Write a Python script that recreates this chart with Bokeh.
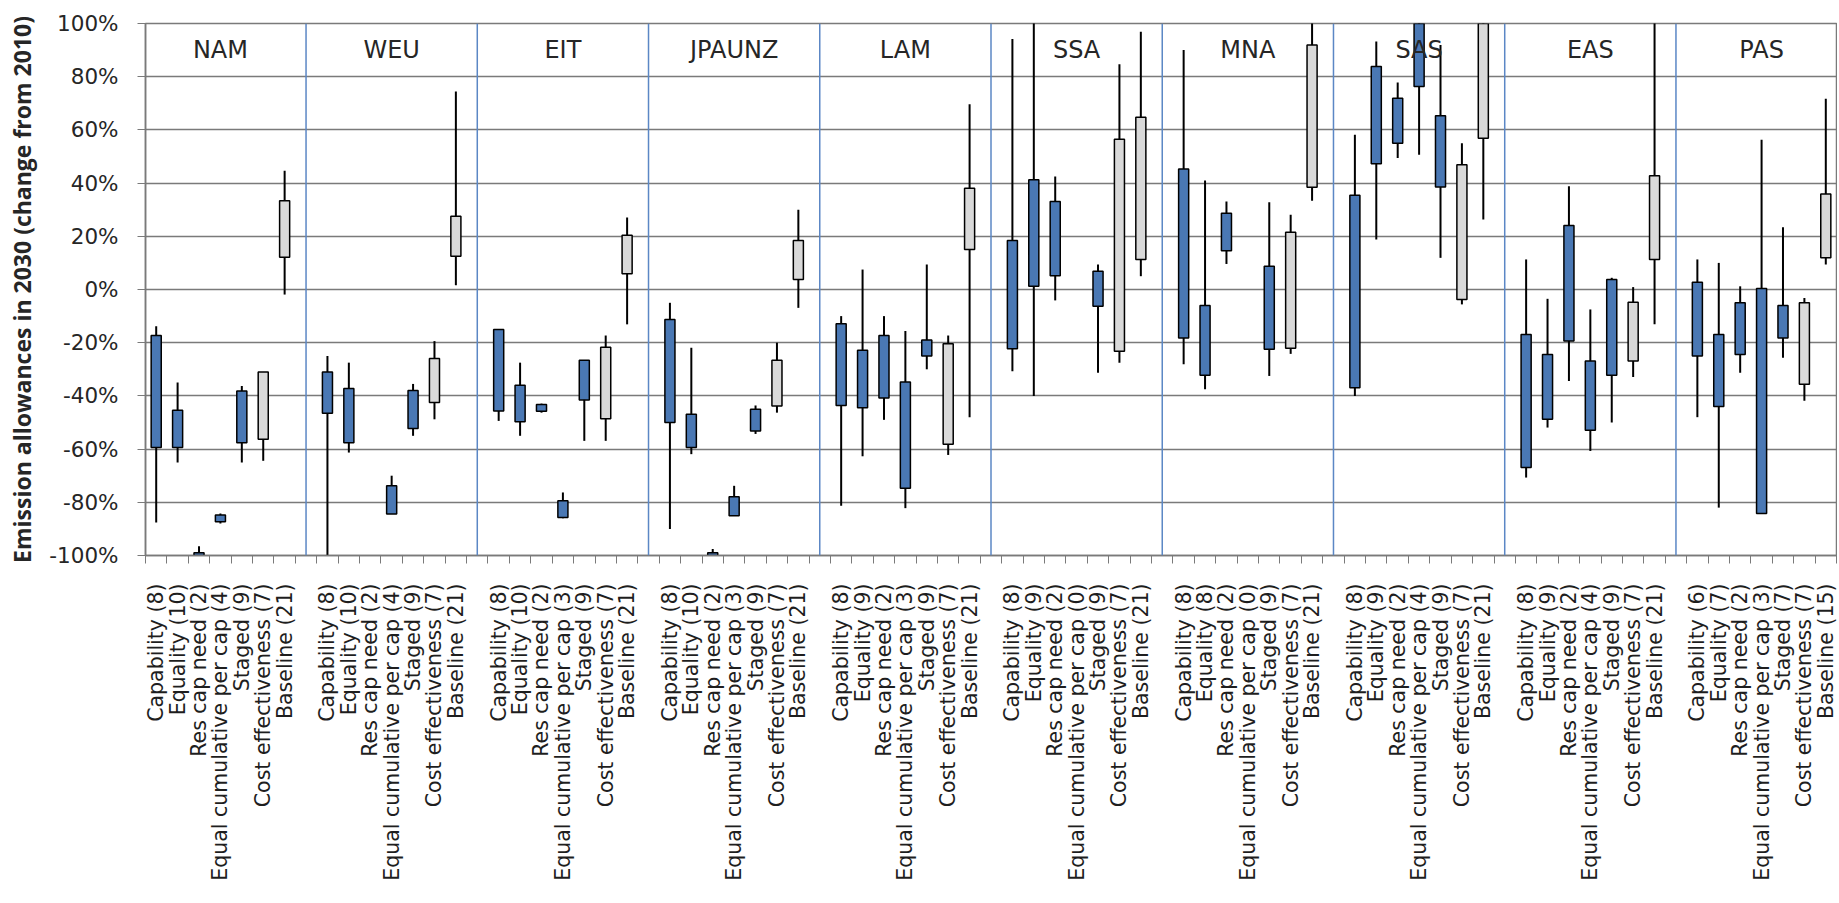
import math
from bokeh.plotting import figure
from bokeh.models import FixedTicker, Range1d, Span, PrintfTickFormatter, ColumnDataSource
from bokeh.core.properties import value
from bokeh.embed import file_html
from bokeh.resources import INLINE

# ---------------- data ----------------
REGIONS = ["NAM", "WEU", "EIT", "JPAUNZ", "LAM", "SSA", "MNA", "SAS", "EAS", "PAS"]
SCHEMES = ["Capability", "Equality", "Res cap need", "Equal cumulative per cap",
           "Staged", "Cost effectiveness", "Baseline"]
GRAY_SCHEMES = ["Cost effectiveness", "Baseline"]
COUNTS = [
    [8, 10, 2, 4, 9, 7, 21],
    [8, 10, 2, 4, 9, 7, 21],
    [8, 10, 2, 3, 9, 7, 21],
    [8, 10, 2, 3, 9, 7, 21],
    [8, 9, 2, 3, 9, 7, 21],
    [8, 9, 2, 0, 9, 7, 21],
    [8, 8, 2, 0, 9, 7, 21],
    [8, 9, 2, 4, 9, 7, 21],
    [8, 9, 2, 4, 9, 7, 21],
    [6, 7, 2, 3, 7, 7, 15],
]
# box upper / lower edge (% change from 2010), None = no data
BOX_TOP = [
    [-17.3, -45.4, -99.0, -84.8, -38.2, -31.0, 33.4],
    [-31.0, -37.2, None, -73.8, -38.0, -25.9, 27.5],
    [-15.0, -36.0, -43.2, -79.4, -26.6, -21.7, 20.4],
    [-11.3, -46.9, -99.0, -77.9, -45.0, -26.6, 18.4],
    [-12.9, -22.8, -17.3, -34.8, -19.0, -20.4, 38.1],
    [18.4, 41.3, 33.1, None, 6.9, 56.5, 64.8],
    [45.3, -6.0, 28.7, None, 8.7, 21.5, 91.9],
    [35.4, 83.8, 71.9, 115.0, 65.3, 46.9, 125.0],
    [-16.9, -24.4, 24.1, -26.9, 3.8, -4.8, 42.8],
    [2.7, -16.9, -5.0, 0.4, -6.0, -5.0, 35.9],
]
BOX_BOTTOM = [
    [-59.4, -59.4, -100.5, -87.3, -57.6, -56.3, 12.1],
    [-46.5, -57.6, None, -84.4, -52.3, -42.5, 12.5],
    [-45.7, -49.7, -45.8, -85.7, -41.5, -48.6, 5.9],
    [-50.0, -59.4, -100.5, -85.1, -53.2, -43.8, 3.8],
    [-43.6, -44.5, -40.8, -74.7, -25.0, -58.2, 15.0],
    [-22.3, 1.2, 5.2, None, -6.3, -23.2, 11.3],
    [-18.2, -32.2, 14.6, None, -22.5, -22.1, 38.4],
    [-36.9, 47.3, 55.0, 76.3, 38.5, -3.8, 56.9],
    [-66.9, -48.8, -19.4, -52.9, -32.2, -26.9, 11.3],
    [-25.0, -44.0, -24.4, -84.2, -18.2, -35.6, 11.9],
]
# whisker max / min
WHISKER_TOP = [
    [-13.8, -35.0, -96.5, -84.2, -36.3, -31.0, 44.6],
    [-25.0, -27.5, None, -70.0, -35.5, -19.4, 74.4],
    [-15.0, -27.5, -42.9, -76.3, -26.6, -17.3, 27.1],
    [-5.0, -21.9, -97.6, -73.8, -43.6, -20.0, 30.0],
    [-10.0, 7.5, -10.0, -15.6, 9.4, -17.3, 69.6],
    [94.2, 130.0, 42.5, None, 9.4, 84.7, 96.9],
    [90.0, 41.0, 33.1, None, 32.8, 28.1, 115.0],
    [58.2, 93.2, 77.8, 130.0, 91.9, 55.0, 140.0],
    [11.3, -3.5, 38.8, -7.5, 4.4, 0.9, 130.0],
    [11.3, 10.0, 1.2, 56.3, 23.4, -3.2, 71.7],
]
WHISKER_BOTTOM = [
    [-87.6, -65.0, -100.0, -88.0, -65.0, -64.4, -1.9],
    [-100.0, -61.3, None, -84.4, -55.0, -48.8, 1.6],
    [-49.4, -55.0, -46.3, -86.0, -56.9, -56.9, -13.1],
    [-90.0, -61.9, -100.0, -85.1, -54.3, -46.3, -6.9],
    [-81.3, -62.7, -49.0, -82.2, -30.0, -62.2, -48.0],
    [-30.7, -40.0, -4.1, None, -31.3, -27.5, 5.0],
    [-28.1, -37.5, 9.6, None, -32.5, -24.2, 33.4],
    [-40.0, 18.8, 49.4, 50.7, 11.9, -5.6, 26.3],
    [-70.7, -51.9, -34.4, -60.7, -50.0, -32.9, -13.1],
    [-48.0, -82.0, -31.3, -84.2, -25.7, -41.8, 9.4],
]

Y_TICKS = [-100, -80, -60, -40, -20, 0, 20, 40, 60, 80, 100]
Y_TITLE = "Emission allowances in 2030 (change from 2010)"

# ---------------- layout helpers ----------------
SLOTS_PER_REGION = len(SCHEMES) + 1          # one empty slot between regions
n_slots = SLOTS_PER_REGION * len(REGIONS) - 1

BLUE = "#4a78b4"
GRAY = "#d9d9d9"

xs, tops, bottoms, wtops, wbots, fills = [], [], [], [], [], []
tick_pos, overrides = [], {}
for g, region in enumerate(REGIONS):
    for i, scheme in enumerate(SCHEMES):
        x = g * SLOTS_PER_REGION + i + 0.5
        tick_pos.append(x)
        overrides[x] = f"{scheme} ({COUNTS[g][i]})"
        if BOX_TOP[g][i] is None:
            continue
        xs.append(x)
        tops.append(BOX_TOP[g][i])
        bottoms.append(BOX_BOTTOM[g][i])
        wtops.append(WHISKER_TOP[g][i])
        wbots.append(WHISKER_BOTTOM[g][i])
        fills.append(GRAY if scheme in GRAY_SCHEMES else BLUE)

src = ColumnDataSource(dict(x=xs, top=tops, bottom=bottoms, wt=wtops, wb=wbots, fill=fills))

p = figure(width=1837, height=900,
           x_range=Range1d(0, n_slots), y_range=Range1d(-100, 100),
           output_backend="svg", toolbar_location=None,
           min_border_left=145, min_border_right=1,
           min_border_top=23, min_border_bottom=345)
p.background_fill_color = "white"
p.border_fill_color = "white"
p.outline_line_color = "#7a7a7a"
p.outline_line_width = 1.5

# grid
p.xgrid.visible = False
p.ygrid.ticker = FixedTicker(ticks=Y_TICKS)
p.ygrid.grid_line_color = "#7a7a7a"
p.ygrid.grid_line_width = 1.5

# region separators
for g in range(1, len(REGIONS)):
    p.add_layout(Span(location=g * SLOTS_PER_REGION - 0.5, dimension="height",
                      line_color="#5b87c5", line_width=1.5))

# whiskers then boxes
p.segment(x0="x", y0="wb", x1="x", y1="wt", source=src, line_color="black", line_width=2)
p.vbar(x="x", top="top", bottom="bottom", width=0.47, source=src,
       fill_color="fill", line_color="black", line_width=1.5)

# region names
p.text(x=[g * SLOTS_PER_REGION + len(SCHEMES) / 2 for g in range(len(REGIONS))],
       y=[90.0] * len(REGIONS), text=REGIONS,
       text_align="center", text_baseline="middle",
       text_font=value("DejaVu Sans"), text_font_size="24px", text_color="#262626")

# x axis
xa = p.xaxis[0]
xa.ticker = FixedTicker(ticks=tick_pos, minor_ticks=list(range(0, n_slots + 1)))
xa.major_label_overrides = overrides
xa.major_label_orientation = math.pi / 2
xa.major_tick_line_color = None
xa.major_tick_out = 0
xa.major_tick_in = 0
xa.minor_tick_line_color = "#7a7a7a"
xa.minor_tick_out = 8
xa.minor_tick_in = 0
xa.axis_line_color = "#7a7a7a"
xa.axis_line_width = 1.5
xa.major_label_standoff = 20
xa.major_label_text_font = "DejaVu Sans"
xa.major_label_text_font_size = "20.5px"
xa.major_label_text_color = "#1e1e1e"

# y axis
ya = p.yaxis[0]
ya.ticker = FixedTicker(ticks=Y_TICKS)
ya.formatter = PrintfTickFormatter(format="%d%%")
ya.minor_tick_line_color = None
ya.major_tick_out = 8
ya.major_tick_in = 0
ya.major_tick_line_color = "#7a7a7a"
ya.axis_line_color = "#7a7a7a"
ya.axis_line_width = 1.5
ya.major_label_standoff = 19
ya.major_label_text_font = "DejaVu Sans"
ya.major_label_text_font_size = "21.5px"
ya.major_label_text_color = "#262626"
ya.axis_label = Y_TITLE
ya.axis_label_text_font = "Open Sans"
ya.axis_label_text_font_style = "bold"
ya.axis_label_text_font_size = "23px"
ya.axis_label_text_color = "#262626"
ya.axis_label_standoff = 8

open("out.html", "w").write(file_html(p, INLINE))
